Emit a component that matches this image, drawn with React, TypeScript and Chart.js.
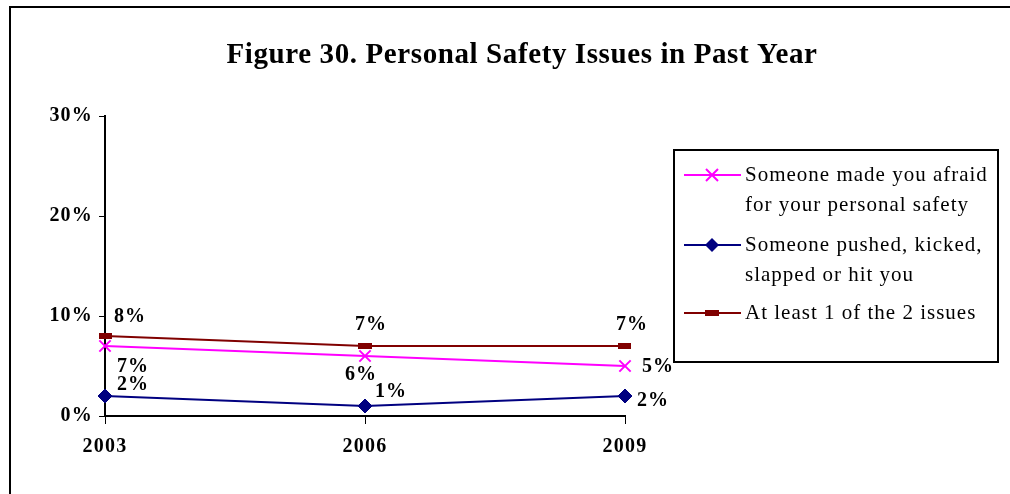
import React, { useEffect, useRef } from "react";
import { Chart, registerables } from "chart.js";

Chart.register(...registerables);

const categories = ["2003", "2006", "2009"];
const afraidValues = [7, 6, 5];
const pushedValues = [2, 1, 2];
const atLeastOneValues = [8, 7, 7];
const yTicks = [0, 10, 20, 30];

const seriesNames = [
  ["Someone made you afraid", "for your personal safety"],
  ["Someone pushed, kicked,", "slapped or hit you"],
  ["At least 1 of the 2 issues"],
];

const titleText = "Figure 30. Personal Safety Issues in Past Year";

// label offsets (styling), per dataset per point
const labelOffsets = [
  [[28, 21], [-4, 19], [33, 1]],
  [[28, -11], [26, -14], [28, 5]],
  [[25, -19], [6, -21], [7, -21]],
];

const PINK = "#FF00FF";
const BLUE = "#000080";
const RED = "#800000";
const SERIF = "'Liberation Serif', 'Times New Roman', serif";

function makeDash(): HTMLCanvasElement {
  const c = document.createElement("canvas");
  c.width = 14;
  c.height = 6;
  const ctx = c.getContext("2d")!;
  ctx.fillStyle = RED;
  ctx.fillRect(0, 0, 14, 6);
  return c;
}

export default function App() {
  const ref = useRef<HTMLCanvasElement>(null);
  useEffect(() => {
    const dash = makeDash();
    const decor = {
      id: "decor",
      beforeDraw(chart: any) {
        const ctx = chart.ctx;
        ctx.save();
        ctx.fillStyle = "#fff";
        ctx.fillRect(0, 0, chart.width, chart.height);
        ctx.strokeStyle = "#000";
        ctx.lineWidth = 2;
        ctx.strokeRect(10, 7, 1100, 600);
        ctx.fillStyle = "#000";
        ctx.font = `bold 29px ${SERIF}`;
        (ctx as any).letterSpacing = "0.6px";
        ctx.textAlign = "center";
        ctx.textBaseline = "middle";
        ctx.fillText(titleText, 522, 56);
        ctx.restore();
        (ctx as any).letterSpacing = "1.2px";
      },
      afterDraw(chart: any) {
        const ctx = chart.ctx;
        ctx.save();
        // data labels
        ctx.fillStyle = "#000";
        ctx.font = `bold 20px ${SERIF}`;
        (ctx as any).letterSpacing = "1px";
        ctx.textAlign = "center";
        ctx.textBaseline = "middle";
        chart.data.datasets.forEach((ds: any, di: number) => {
          const meta = chart.getDatasetMeta(di);
          meta.data.forEach((pt: any, i: number) => {
            const [dx, dy] = labelOffsets[di][i];
            ctx.fillText(ds.data[i] + "%", pt.x + dx, pt.y + dy);
          });
        });
        // legend
        ctx.strokeStyle = "#000";
        ctx.lineWidth = 2;
        ctx.strokeRect(674, 150, 324, 212);
        const colors = [PINK, BLUE, RED];
        const rows = [175, 245, 313];
        ctx.font = `21px ${SERIF}`;
        ctx.textAlign = "left";
        (ctx as any).letterSpacing = "1px";
        rows.forEach((y, k) => {
          ctx.strokeStyle = colors[k];
          ctx.lineWidth = 2;
          ctx.beginPath();
          ctx.moveTo(684, y);
          ctx.lineTo(741, y);
          ctx.stroke();
          if (k === 0) {
            ctx.beginPath();
            ctx.moveTo(706, y - 6);
            ctx.lineTo(718, y + 6);
            ctx.moveTo(718, y - 6);
            ctx.lineTo(706, y + 6);
            ctx.stroke();
          } else if (k === 1) {
            ctx.fillStyle = BLUE;
            ctx.beginPath();
            ctx.moveTo(712, y - 7);
            ctx.lineTo(719, y);
            ctx.lineTo(712, y + 7);
            ctx.lineTo(705, y);
            ctx.closePath();
            ctx.fill();
          } else {
            ctx.drawImage(dash, 705, y - 3);
          }
          ctx.fillStyle = "#000";
          seriesNames[k].forEach((line, j) => {
            ctx.fillText(line, 745, y + j * 30);
          });
        });
        ctx.restore();
      },
    };

    const chart = new Chart(ref.current!, {
      type: "line",
      data: {
        labels: categories,
        datasets: [
          {
            label: seriesNames[0].join(" "),
            data: afraidValues,
            borderColor: PINK,
            backgroundColor: PINK,
            borderWidth: 2,
            pointStyle: "crossRot",
            pointRadius: 8,
            pointBorderWidth: 2,
            tension: 0,
          },
          {
            label: seriesNames[1].join(" "),
            data: pushedValues,
            borderColor: BLUE,
            backgroundColor: BLUE,
            borderWidth: 2,
            pointStyle: "rectRot",
            pointRadius: 7,
            pointBorderWidth: 1,
            tension: 0,
          },
          {
            label: seriesNames[2].join(" "),
            data: atLeastOneValues,
            borderColor: RED,
            backgroundColor: RED,
            borderWidth: 2,
            pointStyle: dash as any,
            tension: 0,
          },
        ],
      },
      options: {
        responsive: false,
        animation: false,
        layout: { padding: { left: 0, top: 116, right: 385, bottom: 40 } },
        plugins: { legend: { display: false }, tooltip: { enabled: false }, title: { display: false } },
        scales: {
          x: {
            type: "category",
            offset: false,
            grid: { drawOnChartArea: false, drawTicks: true, tickLength: 8, color: "#000", lineWidth: 1 },
            border: { color: "#000", width: 2 },
            ticks: { color: "#000", font: { family: SERIF, size: 20, weight: "bold" }, padding: 11 },
            afterFit: (s: any) => {
              s.height = 38;
            },
          },
          y: {
            min: 0,
            max: 30,
            afterBuildTicks: (s: any) => {
              s.ticks = yTicks.map((v) => ({ value: v }));
            },
            grid: { drawOnChartArea: false, drawTicks: true, tickLength: 6, color: "#000", lineWidth: 1 },
            border: { color: "#000", width: 2 },
            ticks: {
              color: "#000",
              font: { family: SERIF, size: 20, weight: "bold" },
              padding: 6,
              callback: (v: any) => v + "%",
            },
            afterFit: (s: any) => {
              s.width = 105;
            },
          },
        },
      },
      plugins: [decor],
    });
    return () => chart.destroy();
  }, []);
  return (
    <canvas
      ref={ref}
      width={1010}
      height={494}
      style={{ position: "absolute", left: 0, top: 0, width: 1010, height: 494 }}
    />
  );
}
